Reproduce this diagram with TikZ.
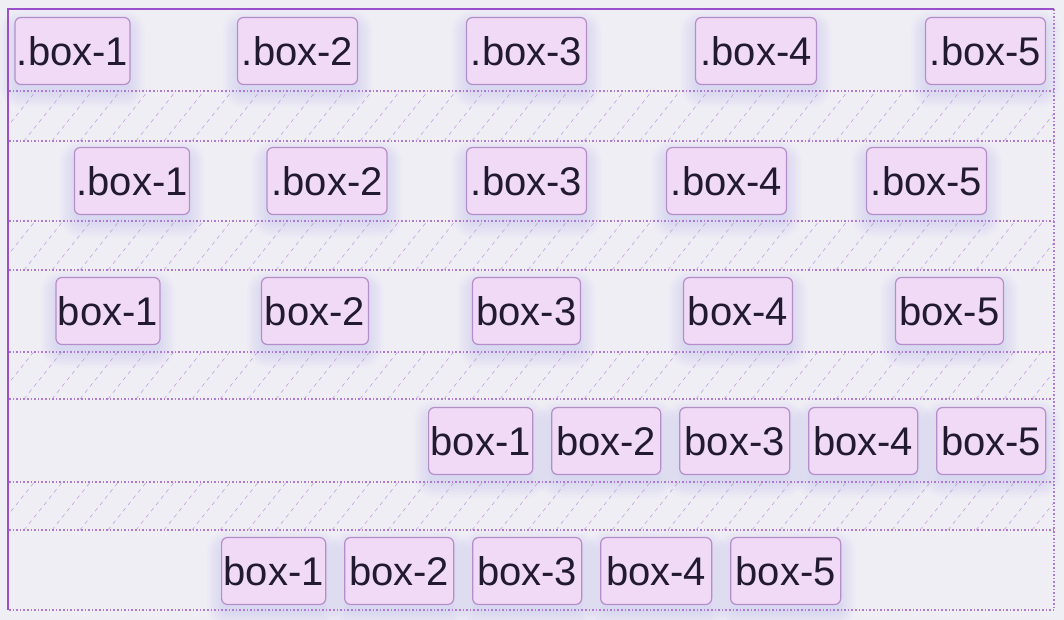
\documentclass[tikz,border=0pt]{standalone}
\usepackage{fontspec}
\setmainfont{Liberation Sans}
\usepackage{xcolor}
\usetikzlibrary{positioning,backgrounds}

\definecolor{pagebg}{HTML}{F0EEF5}
\definecolor{boxfill}{HTML}{F0DAF6}
\definecolor{boxedge}{HTML}{B58DC9}
\definecolor{rim}{HTML}{9C4FCC}
\definecolor{dots}{HTML}{AF7AD6}
\definecolor{hatch}{HTML}{C3A2DE}
\definecolor{ink}{HTML}{221A30}
\definecolor{glow}{HTML}{7F8CF0}

\begin{document}
\begin{tikzpicture}[
  x=1pt, y=-1pt,
  flexbox/.style={draw=boxedge, fill=boxfill, line width=1.2pt, rounded corners=6pt,
              text=ink, font=\fontsize{40}{44}\selectfont, inner xsep=2pt, inner ysep=0pt,
              outer sep=0pt, minimum height=67pt, minimum width=#1},
  flexbox/.default=109pt,
  sep/.style={dots, line width=1.6pt, dash pattern=on 1.6pt off 2pt},
  rimline/.style={rim, line width=2pt},
  hatchline/.style={hatch, line width=0.6pt, dash pattern=on 4pt off 4pt},
  halo/.style={fill=glow, fill opacity=0.035},
]
\useasboundingbox (0,0) rectangle (1064,620);

% hatched gaps between the rows
\foreach \ya/\yb in {91/141, 221/270, 352/399, 482/530}{
  \begin{scope}
    \clip (8,\ya) rectangle (1054,\yb);
    \foreach \k in {-60,-32,...,1060}
      \draw[hatchline] (\k,\yb) -- ++(40,-50);
  \end{scope}
}

% row borders
\foreach \yy in {91,141,221,270,352,399,482,530,610}
  \draw[sep] (9,\yy) -- (1054,\yy);
\draw[sep] (1054,9) -- (1054,610);
\draw[rimline] (8,9) -- (1054,9);
\draw[rimline] (8,8) -- (8,610);

% row 1: space-between
\node[flexbox=114pt] (ra1) at (72.5,51) {.box-1};
\node[flexbox=120pt] (ra2) at (297.5,51) {.box-2};
\node[flexbox=120pt] (ra3) at (526.5,51) {.box-3};
\node[flexbox=121pt] (ra4) at (756,51) {.box-4};
\node[flexbox=120pt] (ra5) at (985.5,51) {.box-5};

% row 2: space-evenly
\node[flexbox=114pt] (rb1) at (132,181) {.box-1};
\node[flexbox=120pt] (rb2) at (327,181) {.box-2};
\node[flexbox=120pt] (rb3) at (526.5,181) {.box-3};
\node[flexbox=120pt] (rb4) at (726.5,181) {.box-4};
\node[flexbox=120pt] (rb5) at (926.5,181) {.box-5};

% row 3: space-around
\node[flexbox=103pt] (rc1) at (108,311) {box-1};
\node[flexbox=107pt] (rc2) at (315,311) {box-2};
\node[flexbox=108pt] (rc3) at (526.5,311) {box-3};
\node[flexbox=109pt] (rc4) at (738,311) {box-4};
\node[flexbox=108pt] (rc5) at (949.5,311) {box-5};

% row 4: flex-end
\node[flexbox=103pt, anchor=west] (rd1) at (428.6,441) {box-1};
\node[flexbox, right=19pt of rd1] (rd2) {box-2};
\node[flexbox=110pt, right=19pt of rd2] (rd3) {box-3};
\node[flexbox, right=19pt of rd3] (rd4) {box-4};
\node[flexbox, right=19pt of rd4] (rd5) {box-5};

% row 5: center
\node[flexbox=104pt, anchor=west] (re1) at (221.6,571) {box-1};
\node[flexbox, right=19pt of re1] (re2) {box-2};
\node[flexbox, right=19pt of re2] (re3) {box-3};
\node[flexbox=111pt, right=19pt of re3] (re4) {box-4};
\node[flexbox=110pt, right=19pt of re4] (re5) {box-5};

% page and soft glow under the boxes
\begin{scope}[on background layer]
  \fill[pagebg] (0,0) rectangle (1064,620);
  \foreach \n in {ra1,ra2,ra3,ra4,ra5,rb1,rb2,rb3,rb4,rb5,rc1,rc2,rc3,rc4,rc5,
                  rd1,rd2,rd3,rd4,rd5,re1,re2,re3,re4,re5}
    \foreach \r in {0,3,...,15}
      \fill[halo, rounded corners=\r pt+6pt]
        ([xshift=-\r pt, yshift={-\r pt-8pt}]\n.south west)
        rectangle ([xshift=\r pt, yshift={\r pt-8pt}]\n.north east);
\end{scope}
\end{tikzpicture}
\end{document}
